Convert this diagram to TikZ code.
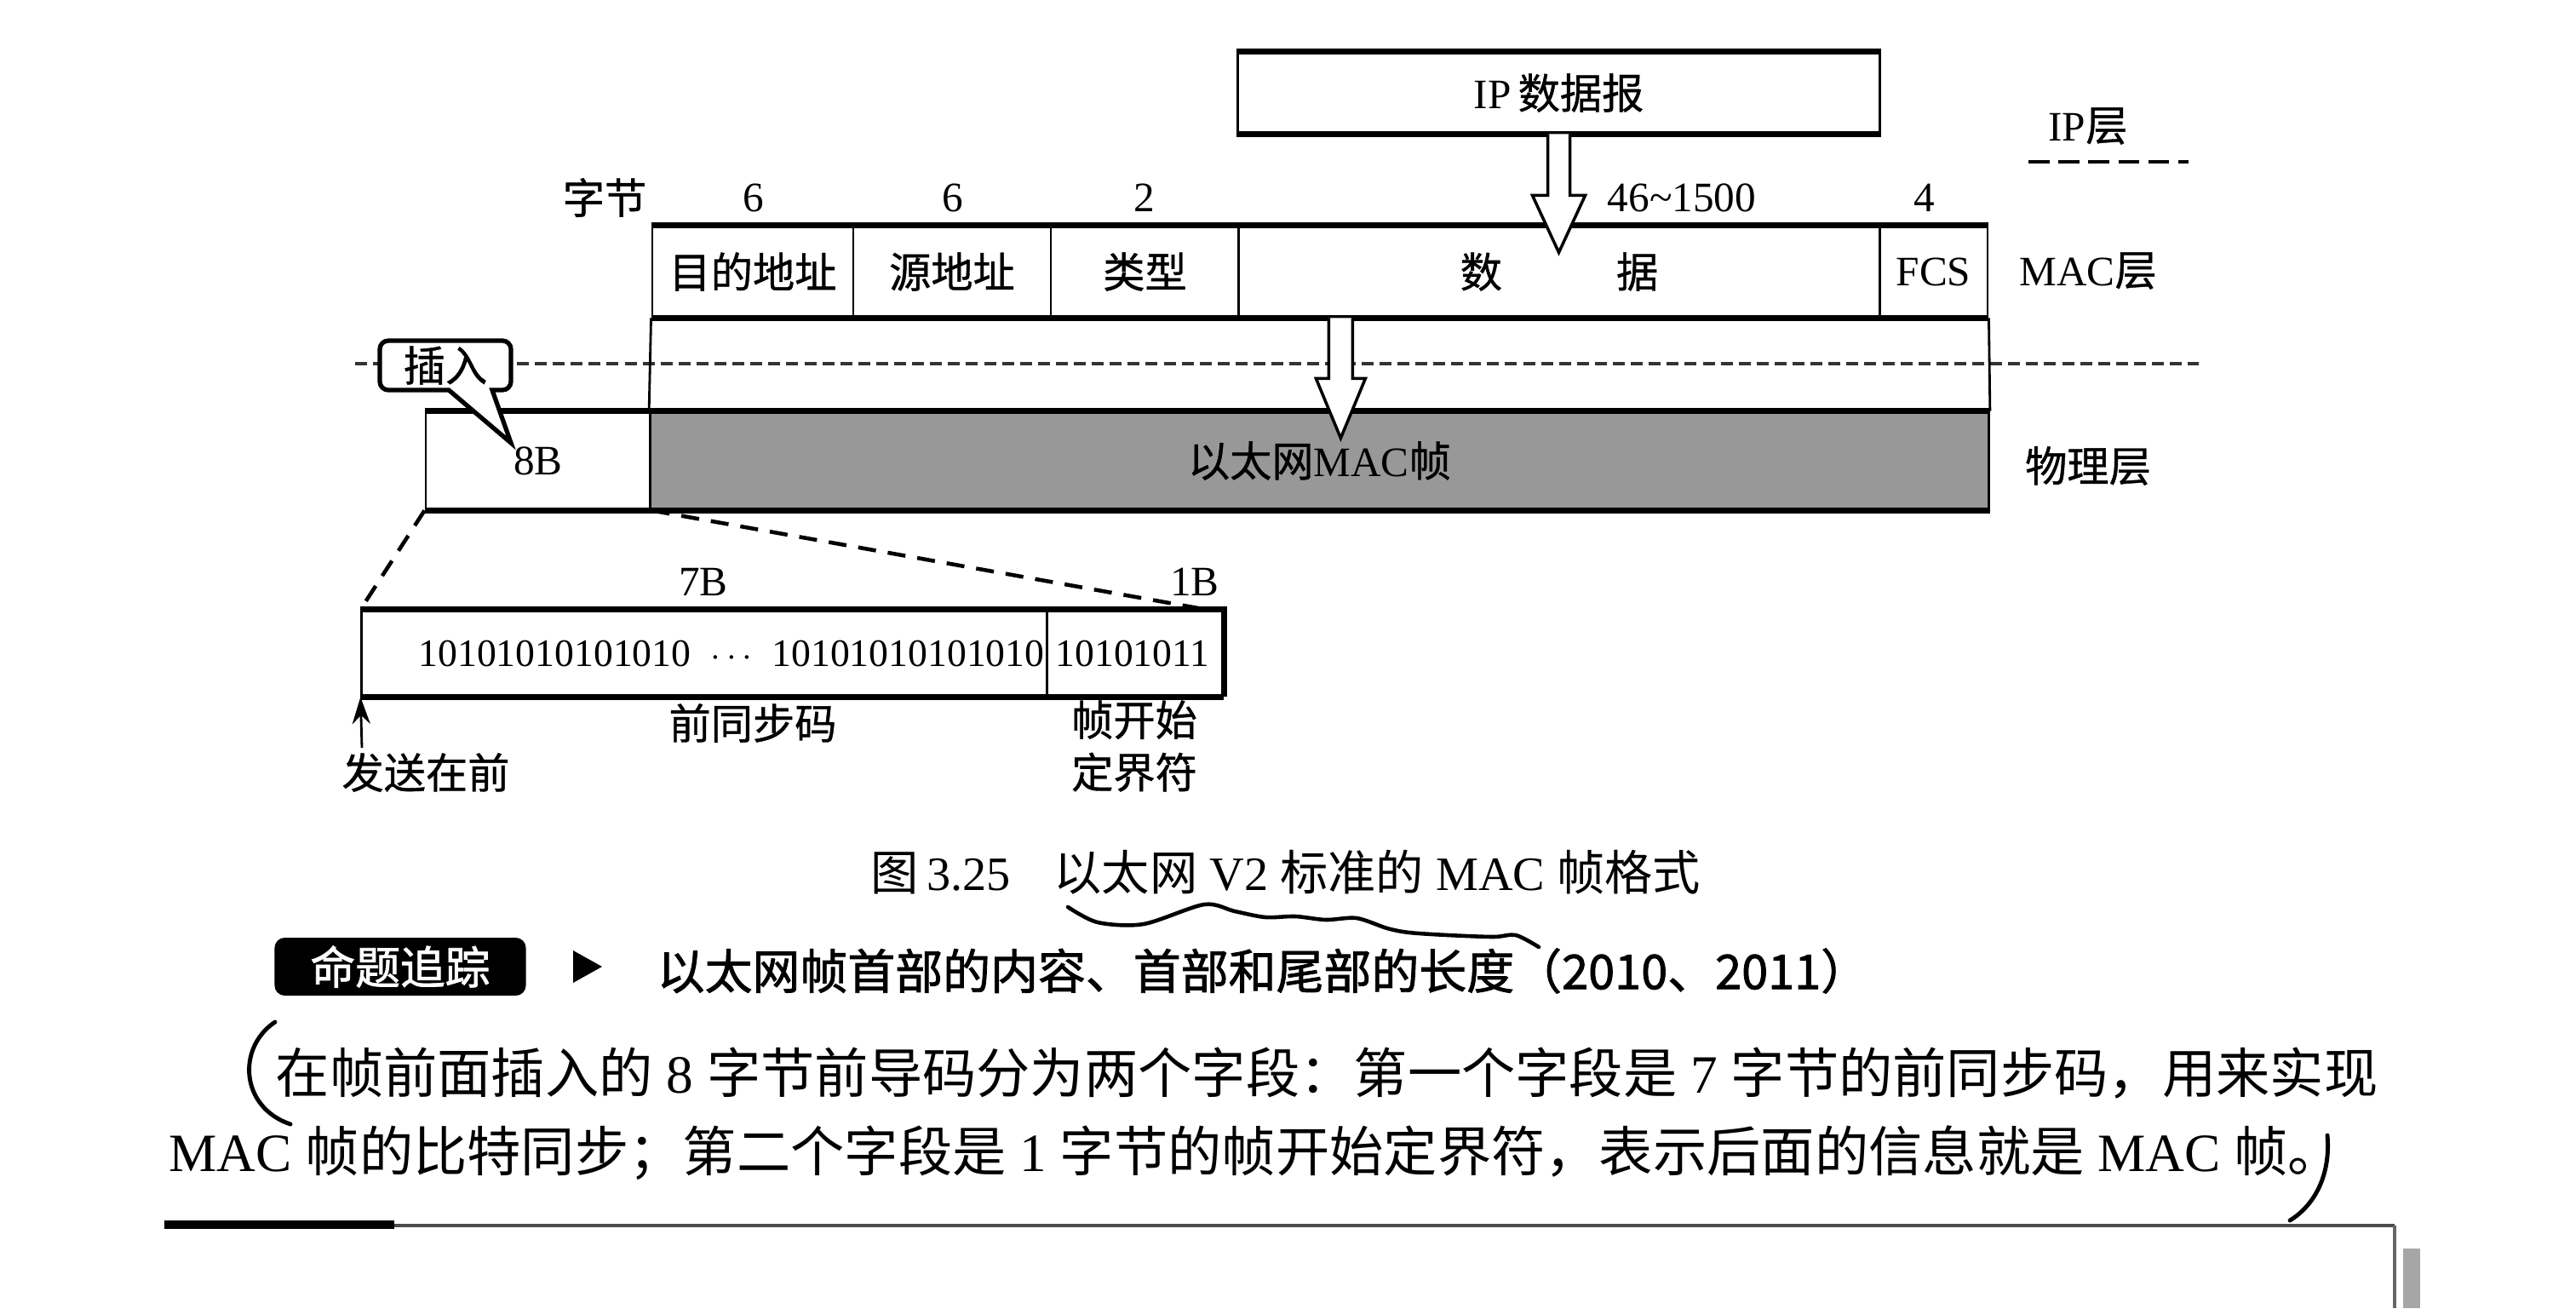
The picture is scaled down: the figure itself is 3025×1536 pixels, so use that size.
\documentclass[tikz,border=0pt]{standalone}
\usepackage{fontspec}
\setmainfont{Liberation Serif}
\newfontfamily\cjk[FakeBold=0.8]{Noto Sans CJK SC}
\newfontfamily\cjkr{Noto Sans CJK SC}
\newfontfamily\cjkb[FakeBold=1.5]{Noto Sans CJK SC}
\usetikzlibrary{calc,arrows.meta}
\begin{document}
\begin{tikzpicture}[x=0.01cm,y=-0.01cm,
  thickline/.style={line width=2pt},
  thinline/.style={line width=0.8pt},
  field/.style={draw, thinline, inner sep=0pt, minimum height=1.06cm, font=\fontsize{14}{16}\selectfont},
  lbl/.style={inner sep=0pt, font=\fontsize{14}{16}\selectfont},
  blockarrow/.style={draw, line width=1pt, fill=white, line join=miter},
  dashedline/.style={line width=1.3pt, dash pattern=on 6pt off 4pt},
  body/.style={inner sep=0pt, anchor=west, font=\fontsize{18}{20}\selectfont}
]
\useasboundingbox (0,0) rectangle (3025,1536);

% ---------- IP layer ----------
\node[field, minimum width=7.53cm, minimum height=0.94cm] (ip) at (1830.5,109) {IP\,{\cjk 数据报}};
\draw[thickline] (ip.north west) -- (ip.north east);
\draw[thickline] (ip.south west) -- (ip.south east);
\node[lbl] (iplayer) at (2452,148) {IP{\cjk 层}};
\coordinate (ipd1) at (2382,190);
\coordinate (ipd2) at (2570,190);
\draw[line width=1.3pt, dash pattern=on 7pt off 3pt] (ipd1) -- (ipd2);

% ---------- MAC layer ----------
\node[field, minimum width=2.36cm] (dst)  at (884,319)    {\cjk 目的地址};
\node[field, minimum width=2.32cm] (src)  at (1118,319)   {\cjk 源地址};
\node[field, minimum width=2.21cm] (type) at (1344.5,319) {\cjk 类型};
\node[field, minimum width=7.52cm] (data) at (1831,319)   {\cjk 数\hspace{1.34cm}据};
\node[field, minimum width=1.27cm] (fcs)  at (2270.5,319) {FCS};
\draw[thickline] (dst.north west) -- (fcs.north east);
\draw[thickline] (dst.south west) -- (fcs.south east);
\node[lbl] (maclayer) at (2452,318) {MAC{\cjk 层}};

\node[lbl] (bytes) at (710,232) {\cjk 字节};
\node[lbl] (n1) at (885,232) {6};
\node[lbl] (n2) at (1119,232) {6};
\node[lbl] (n3) at (1344,232) {2};
\node[lbl] (n4) at (1975,232) {46\textasciitilde 1500};
\node[lbl] (n5) at (2260,232) {4};

% arrow IP -> MAC
\draw[blockarrow] ($(ip.south)+(-13,0)$) -- ($(ip.south)+(-13,72)$) -- ($(ip.south)+(-31,72)$)
  -- ($(ip.south)+(0,139)$) -- ($(ip.south)+(31,72)$) -- ($(ip.south)+(13,72)$) -- ($(ip.south)+(13,0)$);

% ---------- divider ----------
\coordinate (dv1) at (417,427);
\coordinate (dv2) at (2582,427);
\draw[line width=1.3pt, black!80, dash pattern=on 4pt off 2pt] (dv1) -- (dv2);

% ---------- physical layer ----------
\node[field, minimum width=2.64cm, minimum height=1.14cm] (pre8) at (632,541) {8B};
\node[field, minimum width=15.71cm, minimum height=1.14cm, fill={rgb,255:red,152;green,152;blue,152}] (frame) at (1549.5,541) {\cjk 以太网\rmfamily MAC\cjk 帧};
\draw[thickline] (pre8.north west) -- (frame.north east);
\draw[thickline] (pre8.south west) -- (frame.south east);
\node[lbl] (phylayer) at (2452,547) {\cjk 物理层};
\draw[thinline] (dst.south west) -- (frame.north west);
\draw[thinline] (fcs.south east) -- (frame.north east);

% arrow MAC -> physical
\coordinate (a2) at ($(data.south west)+(121,0)$);
\draw[blockarrow] ($(a2)+(-14,0)$) -- ($(a2)+(-14,71)$) -- ($(a2)+(-29,71)$)
  -- ($(a2)+(0,141)$) -- ($(a2)+(29,71)$) -- ($(a2)+(14,71)$) -- ($(a2)+(14,0)$);

% callout
\draw[line width=1.5pt, fill=white, line join=miter] (527,458) -- (600,520) -- (578,458)
  {[rounded corners=0.1cm] -- (600,458) -- (600,400) -- (446,400) -- (446,458)} -- cycle;
\node[lbl, font=\fontsize{14}{16}\selectfont] (ins) at (523,429) {\cjk 插入};

% ---------- preamble ----------
\node[field, minimum width=8.04cm, minimum height=1.00cm] (sync) at (827,767) {};
\node[field, minimum width=2.07cm, minimum height=1.00cm] (sfd) at (1332.5,767) {};
\draw[thickline] (sync.north west) -- (sfd.north east) -- (sfd.south east);
\draw[thickline] (sync.south west) -- (sfd.south east);
\node[lbl, font=\fontsize{13}{15}\selectfont] (bits1) at (859,768) {10101010101010\enspace$\cdots$\enspace 10101010101010};
\node[lbl, font=\fontsize{13}{15}\selectfont] (bits2) at (1330,768) {10101011};
\node[lbl] (b7) at (826,683) {7B};
\node[lbl] (b1) at (1403,683) {1B};
\node[lbl] (syncname) at (884,849) {\cjk 前同步码};
\node[lbl, align=center, font=\fontsize{14}{17.5}\selectfont] (sfdname) at (1332,876) {\cjk 帧开始\\\cjk 定界符};
\draw[dashedline] (pre8.south west) -- (sync.north west);
\draw[dashedline] (pre8.south east) -- ($(sfd.north east)+(-22,0)$);
\coordinate (sendstart) at (425,878);
\draw[thinline, -{Stealth[length=9pt,width=6pt]}] (sendstart) -- (sync.south west);
\node[lbl] (sendfirst) at (500,907) {\cjk 发送在前};

% ---------- caption ----------
\node[inner sep=0pt, font=\fontsize{16}{18}\selectfont] (caption) at (1510,1024)
  {{\cjkr 图}\,3.25\hspace{0.9em}{\cjkr 以太网} V2 {\cjkr 标准的} MAC {\cjkr 帧格式}};
\draw[line width=1.3pt, line cap=round, line join=round] plot[smooth, tension=0.5] coordinates
  {(1254,1065) (1289,1083) (1343,1085) (1414,1062) (1450,1070) (1486,1077) (1521,1076)
   (1557,1080) (1593,1078) (1629,1090) (1655,1095) (1700,1098) (1754,1100) (1780,1098) (1807,1112)};

% ---------- header ----------
\node[fill=black, rounded corners=0.12cm, minimum width=2.95cm, minimum height=0.68cm, inner sep=0pt,
  text=white, font=\cjkb\fontsize{15}{17}\selectfont] (badge) at (470,1135) {命题追踪};
\fill (673,1116) -- (707,1135) -- (673,1154) -- cycle;
\node[inner sep=0pt, anchor=west, font=\cjkb\fontsize{15.9}{18}\selectfont] (head) at (771,1140)
  {以太网帧首部的内容、首部和尾部的长度（2010、2011）};

% ---------- body ----------
\node[body] (line1) at (323,1260)
  {{\cjkr 在帧前面插入的} 8 {\cjkr 字节前导码分为两个字段：第一个字段是} 7 {\cjkr 字节的前同步码，用来实现}};
\node[body] (line2) at (198,1354)
  {MAC {\cjkr 帧的比特同步；第二个字段是} 1 {\cjkr 字节的帧开始定界符，表示后面的信息就是} MAC {\cjkr 帧。}};
\draw[line width=1.4pt, line cap=round] (323,1200) .. controls (278,1230) and (282,1300) .. (341,1320);
\draw[line width=1.4pt, line cap=round] (2733,1333) .. controls (2737,1380) and (2718,1415) .. (2689,1433);

% ---------- page rule ----------
\draw[line width=0.9pt, black!70] (198,1439) -- (2812,1439);
\draw[line width=2.6pt] (193,1438) -- (463,1438);
\draw[line width=1pt, black!60] (2812,1439) -- (2812,1536);
\fill[black!35] (2822,1466) rectangle (2842,1536);
\end{tikzpicture}
\end{document}
